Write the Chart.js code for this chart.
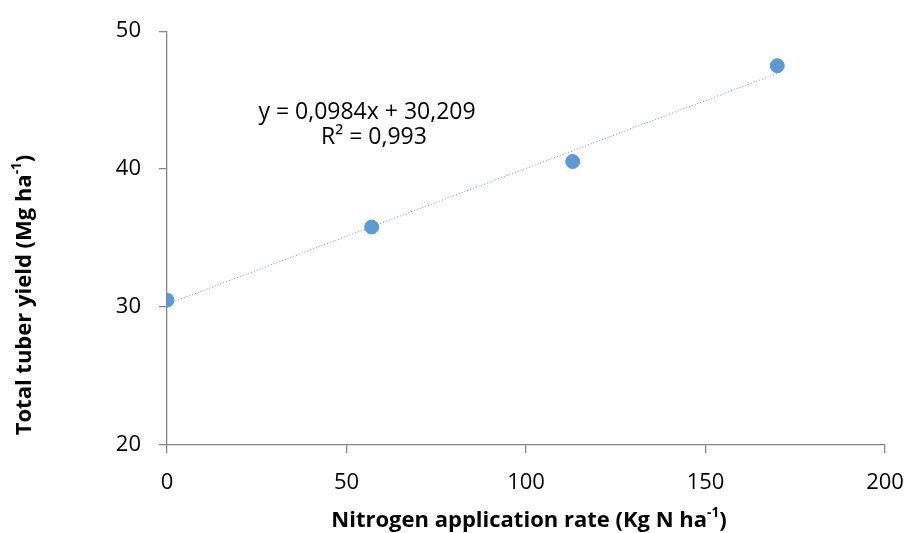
<!DOCTYPE html>
<html>
<head>
<meta charset="utf-8">
<title>Total tuber yield vs nitrogen rate</title>
<script src="https://cdn.jsdelivr.net/npm/chart.js@4.4.1/dist/chart.umd.min.js"></script>
<style>
    html, body { margin: 0; padding: 0; background: #fff; }
    #wrap { width: 909px; height: 533px; position: relative; }
</style>
</head>
<body>
<div id="wrap"><canvas id="yieldChart" width="909" height="533"></canvas></div>
<script>
// data
const nitrogenRate = [0, 57, 113, 170];
const tuberYield = [30.5, 35.8, 40.55, 47.5];

// trendline endpoints (linear fit shown on the chart)
const trendX = [0, 170];
const trendY = [30.21, 46.94];
const equationLines = ['y = 0,0984x + 30,209', 'R² = 0,993'];

const xTicks = [0, 50, 100, 150, 200];
const yTicks = [20, 30, 40, 50];

const FONT = '"Open Sans", "Noto Sans", sans-serif';
const AXIS_GREY = '#868686';
const BLUE = '#5B9BD5';

// draws text with a superscript piece, e.g. "ha" + "-1"
function drawSupText(ctx, parts, x, y, size) {
    let total = 0;
    parts.forEach(p => {
        ctx.font = 'bold ' + (p.sup ? size * 0.62 : size) + 'px ' + FONT;
        total += ctx.measureText(p.t).width;
    });
    let cx = x - total / 2;
    parts.forEach(p => {
        ctx.font = 'bold ' + (p.sup ? size * 0.62 : size) + 'px ' + FONT;
        ctx.fillText(p.t, cx, p.sup ? y - size * 0.36 : y);
        cx += ctx.measureText(p.t).width;
    });
}

const labelsPlugin = {
    id: 'labelsPlugin',
    afterDraw(chart) {
        const ctx = chart.ctx;
        const area = chart.chartArea;
        ctx.save();
        ctx.fillStyle = '#000';
        ctx.textBaseline = 'middle';
        ctx.textAlign = 'left';

        // x axis title
        drawSupText(ctx, [
            { t: 'Nitrogen application rate (Kg N ha' },
            { t: '-1', sup: true },
            { t: ')' }
        ], 529, 521, 22);

        // y axis title (rotated)
        ctx.save();
        ctx.translate(25, 295);
        ctx.rotate(-Math.PI / 2);
        drawSupText(ctx, [
            { t: 'Total tuber yield (Mg ha' },
            { t: '-1', sup: true },
            { t: ')' }
        ], 0, 0, 22);
        ctx.restore();

        // trendline equation
        ctx.textAlign = 'center';
        ctx.font = '23px ' + FONT;
        ctx.fillText(equationLines[0], area.left + 200, 112);
        ctx.fillText(equationLines[1], area.left + 207, 137);
        ctx.restore();
    }
};

function createChart(id, config) {
    const ctx = document.getElementById(id);
    if (!ctx) {
        console.error(`Canvas element with id '${id}' not found`);
        return;
    }
    ctx.chart = new Chart(ctx, config);
}

createChart('yieldChart', {
    type: 'scatter',
    data: {
        datasets: [
            {
                label: 'Total tuber yield',
                data: nitrogenRate.map((x, i) => ({ x: x, y: tuberYield[i] })),
                backgroundColor: BLUE,
                borderColor: BLUE,
                pointRadius: 7,
                pointHoverRadius: 7,
                order: 1,
            },
            {
                label: 'Linear trend',
                type: 'line',
                data: trendX.map((x, i) => ({ x: x, y: trendY[i] })),
                borderColor: BLUE,
                borderWidth: 1,
                borderDash: [1, 2],
                pointRadius: 0,
                fill: false,
                order: 2,
            },
        ],
    },
    options: {
        responsive: false,
        animation: false,
        layout: { padding: { top: 29, right: 24, left: 0, bottom: 0 } },
        plugins: { legend: { display: false }, tooltip: { enabled: false } },
        scales: {
            x: {
                type: 'linear',
                min: 0,
                max: 200,
                afterBuildTicks: s => { s.ticks = xTicks.map(v => ({ value: v })); },
                afterFit: s => {
                    s.height = 88;
                    s.paddingLeft = 0;
                    s.paddingRight = 0;
                },
                ticks: { color: '#000', font: { family: FONT, size: 22 }, padding: 17, maxRotation: 0 },
                grid: { drawOnChartArea: false, drawTicks: true, tickLength: 8, color: AXIS_GREY, lineWidth: 1.3 },
                border: { color: AXIS_GREY, width: 1.3 },
            },
            y: {
                type: 'linear',
                min: 20,
                max: 50,
                afterBuildTicks: s => { s.ticks = yTicks.map(v => ({ value: v })); },
                afterFit: s => { s.width = 167; },
                ticks: { color: '#000', font: { family: FONT, size: 22 }, padding: 18 },
                grid: { drawOnChartArea: false, drawTicks: true, tickLength: 8, color: AXIS_GREY, lineWidth: 1.3 },
                border: { color: AXIS_GREY, width: 1.3 },
            },
        },
    },
    plugins: [labelsPlugin],
});
</script>
</body>
</html>
